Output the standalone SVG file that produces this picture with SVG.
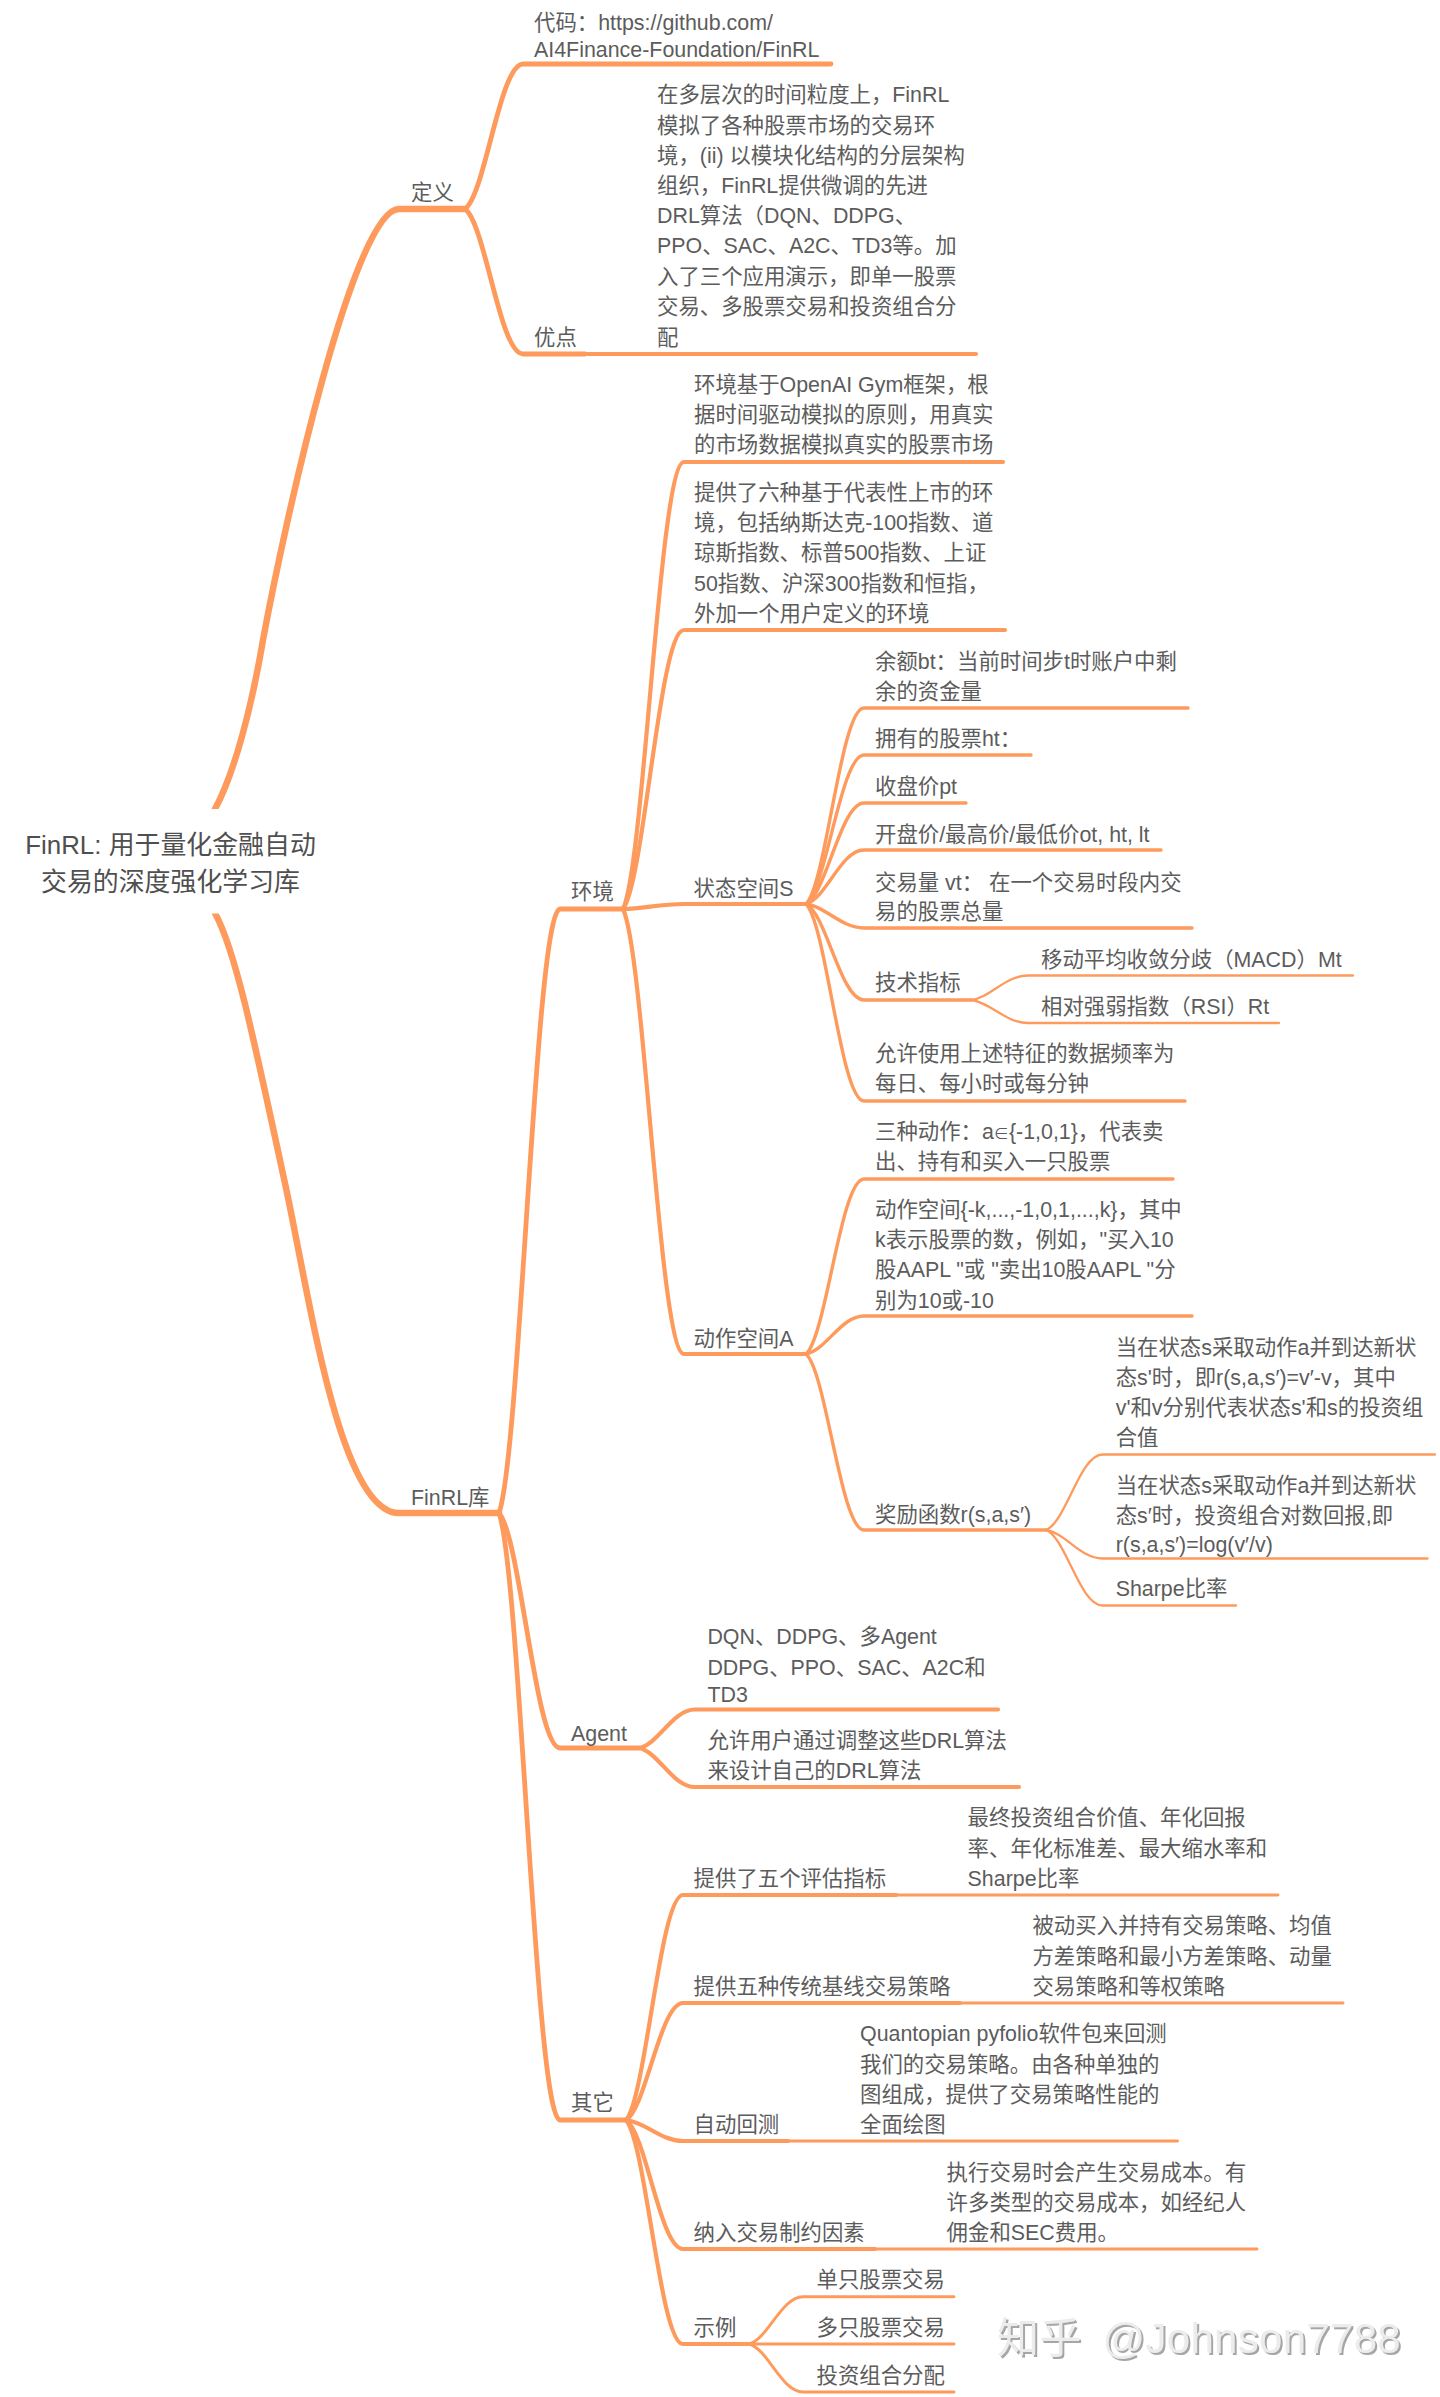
<svg xmlns="http://www.w3.org/2000/svg" width="1440" height="2397" viewBox="0 0 1440 2397">
<style>
text{font-family:"Liberation Sans","Noto Sans CJK SC",sans-serif;font-size:21.4px;fill:#5c5c5c}
.root{font-size:25.9px;text-anchor:middle;fill:#4f4f4f}
.wm{font-size:42px;fill:#ececec;letter-spacing:0.3px;word-spacing:9px;filter:url(#wmshadow)}
#connectors path{fill:none;stroke:#fd9a5c;stroke-linecap:round}
.w6{stroke-width:6.5}.w4{stroke-width:4.8}.w35{stroke-width:4.2}.w3{stroke-width:3.4}.w25{stroke-width:2.9}.w2{stroke-width:2.3}
</style>
<defs><filter id="wmshadow" x="-5%" y="-20%" width="110%" height="140%"><feDropShadow dx="2" dy="2" stdDeviation="0.3" flood-color="#a6a6a6"/></filter></defs>
<rect width="1440" height="2397" fill="#fff"/>
<g id="connectors">
<path class="w6" d="M200 836L215 809C235 772 252 705 263 640C285 521 354 209 399 209H465"/>
<path class="w6" d="M200 887L215 913C235 950 252 1030 286 1188C310 1300 340 1513 399 1513H499"/>
<path class="w4" d="M465 209C485.3 194.5 499.8 64 523 64H831"/>
<path class="w4" d="M465 209C485.3 223.5 499.8 354 523 354H585"/>
<path class="w35" d="M585 354H976"/>
<path class="w4" d="M499 1513C520.4 1452.6 535.6 909 560 909H623"/>
<path class="w4" d="M499 1513C520.4 1536.5 535.6 1748 560 1748H639"/>
<path class="w4" d="M499 1513C520.4 1573.7 535.6 2120 560 2120H626"/>
<path class="w35" d="M623 909C644.4 864.3 659.6 462 684 462H1003"/>
<path class="w35" d="M623 909C644.4 881.1 659.6 630 684 630H1005"/>
<path class="w35" d="M623 909C644.4 908.5 659.6 904 684 904H806"/>
<path class="w35" d="M623 909C644.4 953.5 659.6 1354 684 1354H806"/>
<path class="w3" d="M806 904C826.3 884.4 840.8 708 864 708H1188"/>
<path class="w3" d="M806 904C826.3 889.1 840.8 755 864 755H1031"/>
<path class="w3" d="M806 904C826.3 893.9 840.8 803 864 803H966"/>
<path class="w3" d="M806 904C826.3 898.6 840.8 850 864 850H1161"/>
<path class="w3" d="M806 904C826.3 906.4 840.8 928 864 928H1192"/>
<path class="w3" d="M806 904C826.3 913.6 840.8 1000 864 1000H971"/>
<path class="w3" d="M806 904C826.3 923.7 840.8 1101 864 1101H1185"/>
<path class="w2" d="M971 1000C991 997.5 1005.2 975.5 1028 975.5H1353"/>
<path class="w2" d="M971 1000C991 1002.3 1005.2 1023 1028 1023H1279"/>
<path class="w3" d="M806 1354C826.3 1336.5 840.8 1179 864 1179H1173"/>
<path class="w3" d="M806 1354C826.3 1350.2 840.8 1316 864 1316H1192"/>
<path class="w3" d="M806 1354C826.3 1371.6 840.8 1530 864 1530H1046"/>
<path class="w2" d="M1046 1530C1065.8 1522.5 1079.9 1454.5 1102.5 1454.5H1435"/>
<path class="w2" d="M1046 1530C1065.8 1532.9 1079.9 1558.5 1102.5 1558.5H1427.5"/>
<path class="w2" d="M1046 1530C1065.8 1537.6 1079.9 1605.5 1102.5 1605.5H1236"/>
<path class="w35" d="M639 1748C658.6 1744.2 672.6 1709.5 695 1709.5H998"/>
<path class="w35" d="M639 1748C658.6 1751.9 672.6 1787 695 1787H1019"/>
<path class="w35" d="M626 2120C646 2097.5 660.2 1895 683 1895H896"/>
<path class="w35" d="M626 2120C646 2108.3 660.2 2003 683 2003H960"/>
<path class="w35" d="M626 2120C646 2122.1 660.2 2141 683 2141H788"/>
<path class="w35" d="M626 2120C646 2132.9 660.2 2249 683 2249H875"/>
<path class="w35" d="M626 2120C646 2142.4 660.2 2344 683 2344H749"/>
<path class="w25" d="M896 1895H1278"/>
<path class="w25" d="M960 2003H1343"/>
<path class="w25" d="M788 2141H1177.5"/>
<path class="w25" d="M875 2249H1257"/>
<path class="w25" d="M749 2344C767.9 2339.3 781.4 2296.7 803 2296.7H954"/>
<path class="w25" d="M749 2344H954"/>
<path class="w25" d="M749 2344C767.9 2348.8 781.4 2392 803 2392H954"/>
</g>
<g id="root"><rect x="100" y="809" width="240" height="104.5" fill="#fff"/><text class="root" x="170.5" y="854">FinRL: 用于量化金融自动</text><text class="root" x="170.5" y="890.5">交易的深度强化学习库</text></g>
<g id="n-dingyi"><text x="411" y="200">定义</text></g>
<g id="n-code"><text x="534" y="29.5">代码：https://github.com/</text><text x="534" y="57">AI4Finance-Foundation/FinRL</text></g>
<g id="n-youdian"><text x="534" y="345">优点</text></g>
<g id="n-youdian-text"><text x="657" y="102">在多层次的时间粒度上，FinRL</text><text x="657" y="132.5">模拟了各种股票市场的交易环</text><text x="657" y="162.5">境，(ii) 以模块化结构的分层架构</text><text x="657" y="192.7">组织，FinRL提供微调的先进</text><text x="657" y="223">DRL算法（DQN、DDPG、</text><text x="657" y="253">PPO、SAC、A2C、TD3等。加</text><text x="657" y="283.5">入了三个应用演示，即单一股票</text><text x="657" y="314">交易、多股票交易和投资组合分</text><text x="657" y="345">配</text></g>
<g id="n-finrl"><text x="411" y="1505">FinRL库</text></g>
<g id="n-env"><text x="571" y="899">环境</text></g>
<g id="n-env1"><text x="694" y="392">环境基于OpenAI Gym框架，根</text><text x="694" y="422">据时间驱动模拟的原则，用真实</text><text x="694" y="452">的市场数据模拟真实的股票市场</text></g>
<g id="n-env2"><text x="694" y="500">提供了六种基于代表性上市的环</text><text x="694" y="530">境，包括纳斯达克-100指数、道</text><text x="694" y="560">琼斯指数、标普500指数、上证</text><text x="694" y="590.5">50指数、沪深300指数和恒指，</text><text x="694" y="620.5">外加一个用户定义的环境</text></g>
<g id="n-state"><text x="693.6" y="895.5">状态空间S</text></g>
<g id="n-s1"><text x="875" y="668.5">余额bt：当前时间步t时账户中剩</text><text x="875" y="698.5">余的资金量</text></g>
<g id="n-s2"><text x="875" y="746">拥有的股票ht：</text></g>
<g id="n-s3"><text x="875" y="794">收盘价pt</text></g>
<g id="n-s4"><text x="875" y="841.5">开盘价/最高价/最低价ot, ht, lt</text></g>
<g id="n-s5"><text x="875" y="889.5">交易量 vt： 在一个交易时段内交</text><text x="875" y="919">易的股票总量</text></g>
<g id="n-s6"><text x="875" y="990">技术指标</text></g>
<g id="n-s61"><text x="1041" y="966.5">移动平均收敛分歧（MACD）Mt</text></g>
<g id="n-s62"><text x="1041" y="1013.5">相对强弱指数（RSI）Rt</text></g>
<g id="n-s7"><text x="875" y="1061">允许使用上述特征的数据频率为</text><text x="875" y="1091">每日、每小时或每分钟</text></g>
<g id="n-action"><text x="693.6" y="1345.5">动作空间A</text></g>
<g id="n-a1"><text x="875" y="1138.5">三种动作：a<tspan font-size="15">∈</tspan>{-1,0,1}，代表卖</text><text x="875" y="1168.5">出、持有和买入一只股票</text></g>
<g id="n-a2"><text x="875" y="1217">动作空间{-k,...,-1,0,1,...,k}，其中</text><text x="875" y="1247">k表示股票的数，例如，"买入10</text><text x="875" y="1277">股AAPL "或 "卖出10股AAPL "分</text><text x="875" y="1307.5">别为10或-10</text></g>
<g id="n-a3"><text x="875" y="1522">奖励函数r(s,a,s′)</text></g>
<g id="n-r1"><text x="1115.7" y="1355">当在状态s采取动作a并到达新状</text><text x="1115.7" y="1385">态s'时，即r(s,a,s′)=v′-v，其中</text><text x="1115.7" y="1415">v'和v分别代表状态s'和s的投资组</text><text x="1115.7" y="1445">合值</text></g>
<g id="n-r2"><text x="1115.7" y="1493">当在状态s采取动作a并到达新状</text><text x="1115.7" y="1523">态s′时，投资组合对数回报,即</text><text x="1115.7" y="1552">r(s,a,s′)=log(v′/v)</text></g>
<g id="n-r3"><text x="1115.7" y="1596">Sharpe比率</text></g>
<g id="n-agent"><text x="571" y="1741">Agent</text></g>
<g id="n-ag1"><text x="707.4" y="1644">DQN、DDPG、多Agent</text><text x="707.4" y="1674.5">DDPG、PPO、SAC、A2C和</text><text x="707.4" y="1702">TD3</text></g>
<g id="n-ag2"><text x="707.4" y="1748">允许用户通过调整这些DRL算法</text><text x="707.4" y="1778">来设计自己的DRL算法</text></g>
<g id="n-other"><text x="571" y="2110">其它</text></g>
<g id="n-o1"><text x="693.6" y="1886">提供了五个评估指标</text></g>
<g id="n-o11"><text x="967.6" y="1825">最终投资组合价值、年化回报</text><text x="967.6" y="1855.5">率、年化标准差、最大缩水率和</text><text x="967.6" y="1885.5">Sharpe比率</text></g>
<g id="n-o2"><text x="693.6" y="1994">提供五种传统基线交易策略</text></g>
<g id="n-o21"><text x="1032.4" y="1933">被动买入并持有交易策略、均值</text><text x="1032.4" y="1963.5">方差策略和最小方差策略、动量</text><text x="1032.4" y="1993.7">交易策略和等权策略</text></g>
<g id="n-o3"><text x="693.6" y="2132">自动回测</text></g>
<g id="n-o31"><text x="860" y="2041">Quantopian pyfolio软件包来回测</text><text x="860" y="2071.5">我们的交易策略。由各种单独的</text><text x="860" y="2102">图组成，提供了交易策略性能的</text><text x="860" y="2132">全面绘图</text></g>
<g id="n-o4"><text x="693.6" y="2240">纳入交易制约因素</text></g>
<g id="n-o41"><text x="946.6" y="2179.5">执行交易时会产生交易成本。有</text><text x="946.6" y="2209.5">许多类型的交易成本，如经纪人</text><text x="946.6" y="2240">佣金和SEC费用。</text></g>
<g id="n-o5"><text x="693.6" y="2335">示例</text></g>
<g id="n-o51"><text x="816.5" y="2287">单只股票交易</text></g>
<g id="n-o52"><text x="816.5" y="2335">多只股票交易</text></g>
<g id="n-o53"><text x="816.5" y="2382.5">投资组合分配</text></g>
<text class="wm" x="997" y="2353">知乎 @Johnson7788</text>
</svg>
